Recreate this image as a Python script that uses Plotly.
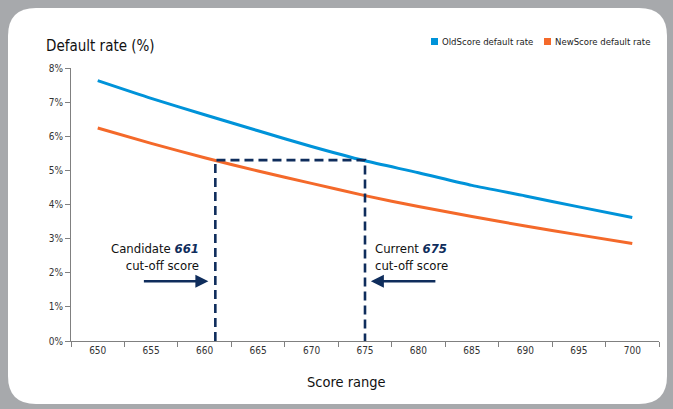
import plotly.graph_objects as go

# ---- data ----
scores = [650, 655, 660, 665, 670, 675, 680, 685, 690, 695, 700]
old_rate = [7.63, 7.11, 6.63, 6.16, 5.70, 5.28, 4.93, 4.56, 4.25, 3.93, 3.62]
new_rate = [6.24, 5.79, 5.37, 4.98, 4.62, 4.26, 3.94, 3.65, 3.37, 3.11, 2.86]
y_ticks = [0, 1, 2, 3, 4, 5, 6, 7, 8]
y_tick_labels = ["0%", "1%", "2%", "3%", "4%", "5%", "6%", "7%", "8%"]
candidate_cutoff = 661
current_cutoff = 675
cutoff_rate = 5.3
series_names = ["OldScore default rate", "NewScore default rate"]

BLUE = "#0093d9"
ORANGE = "#f4692a"
NAVY = "#0f2d5c"
FONT = "DejaVu Sans Condensed, Liberation Sans Narrow, Roboto, sans-serif"

W, H = 673, 409
L, R, T, B = 71, 14, 68, 68
pw, ph = W - L - R, H - T - B


def px(x):
    return (x - L) / pw


def py(y):
    return (H - B - y) / ph


fig = go.Figure()

fig.add_trace(go.Scatter(x=scores, y=old_rate, mode="lines", name=series_names[0],
                         line=dict(color=BLUE, width=3, shape="spline", smoothing=0.6),
                         showlegend=False))
fig.add_trace(go.Scatter(x=scores, y=new_rate, mode="lines", name=series_names[1],
                         line=dict(color=ORANGE, width=3, shape="spline", smoothing=0.6),
                         showlegend=False))

# dashed cut-off guide
fig.add_trace(go.Scatter(x=[candidate_cutoff, candidate_cutoff, current_cutoff, current_cutoff],
                         y=[0, cutoff_rate, cutoff_rate, 0], mode="lines",
                         line=dict(color=NAVY, width=2.6, dash="9px,5px"),
                         showlegend=False, hoverinfo="skip"))

# white rounded panel
x0, y0, x1, y1, r = 8, 8, 667, 404, 28
path = (f"M {px(x0 + r)},{py(y0)} L {px(x1 - r)},{py(y0)} "
        f"Q {px(x1)},{py(y0)} {px(x1)},{py(y0 + r)} L {px(x1)},{py(y1 - r)} "
        f"Q {px(x1)},{py(y1)} {px(x1 - r)},{py(y1)} L {px(x0 + r)},{py(y1)} "
        f"Q {px(x0)},{py(y1)} {px(x0)},{py(y1 - r)} L {px(x0)},{py(y0 + r)} "
        f"Q {px(x0)},{py(y0)} {px(x0 + r)},{py(y0)} Z")
shapes = [dict(type="path", path=path, xref="paper", yref="paper",
               fillcolor="white", line=dict(width=0), layer="below")]

# legend squares
for sx, col in [(431, BLUE), (544, ORANGE)]:
    shapes.append(dict(type="rect", xref="paper", yref="paper",
                       x0=px(sx), x1=px(sx + 7), y0=py(45), y1=py(38),
                       fillcolor=col, line=dict(width=0)))

annotations = [
    dict(text="Default rate (%)", xref="paper", yref="paper", x=px(44), y=py(46),
         xanchor="left", yanchor="middle", showarrow=False,
         font=dict(family=FONT, size=15, color="#111")),
    dict(text=series_names[0], xref="paper", yref="paper", x=px(440), y=py(41.5),
         xanchor="left", yanchor="middle", showarrow=False,
         font=dict(family=FONT, size=9.5, color="#222")),
    dict(text=series_names[1], xref="paper", yref="paper", x=px(553), y=py(41.5),
         xanchor="left", yanchor="middle", showarrow=False,
         font=dict(family=FONT, size=9.5, color="#222")),
    dict(text=f"Candidate <b><i><span style='color:{NAVY}'>{candidate_cutoff}</span></i></b><br>cut-off score",
         xref="paper", yref="paper", x=px(201), y=py(257), xanchor="right", yanchor="middle",
         align="right", showarrow=False, font=dict(family=FONT, size=13, color="#111")),
    dict(text=f"Current <b><i><span style='color:{NAVY}'>{current_cutoff}</span></i></b><br>cut-off score",
         xref="paper", yref="paper", x=px(373), y=py(257), xanchor="left", yanchor="middle",
         align="left", showarrow=False, font=dict(family=FONT, size=13, color="#111")),
    # arrows
    dict(text="", x=candidate_cutoff - 0.65, y=1.75, xref="x", yref="y",
         ax=-66, ay=0, axref="pixel", ayref="pixel", showarrow=True,
         arrowhead=2, arrowsize=1, arrowwidth=2.6, arrowcolor=NAVY),
    dict(text="", x=current_cutoff + 0.55, y=1.75, xref="x", yref="y",
         ax=66, ay=0, axref="pixel", ayref="pixel", showarrow=True,
         arrowhead=2, arrowsize=1, arrowwidth=2.6, arrowcolor=NAVY),
    dict(text="Score range", xref="paper", yref="paper", x=px(346), y=py(382),
         xanchor="center", yanchor="middle", showarrow=False,
         font=dict(family=FONT, size=14.5, color="#111")),
]

fig.update_layout(
    width=W, height=H,
    margin=dict(l=L, r=R, t=T, b=B, pad=0),
    paper_bgcolor="#a7a9ac",
    plot_bgcolor="rgba(0,0,0,0)",
    shapes=shapes,
    annotations=annotations,
    showlegend=False,
    xaxis=dict(range=[647.5, 702.5], tickvals=scores, ticktext=[str(s) for s in scores],
               showgrid=False, zeroline=False, showline=True, linecolor="#808080", linewidth=1,
               ticks="", tickfont=dict(family=FONT, size=10, color="#333"),
               minor=dict(tick0=647.5, dtick=5, ticks="outside", ticklen=5,
                          tickcolor="#808080", tickwidth=1, showgrid=False)),
    yaxis=dict(range=[0, 8], tickvals=y_ticks, ticktext=y_tick_labels, showgrid=False,
               zeroline=False, showline=True, linecolor="#808080", linewidth=1,
               ticks="outside", ticklen=5, tickcolor="#808080",
               tickfont=dict(family=FONT, size=10, color="#333")),
)

fig.write_html("out.html", config={"displayModeBar": False},
               post_script="document.body.style.margin='0';document.body.style.background='#a7a9ac';")
